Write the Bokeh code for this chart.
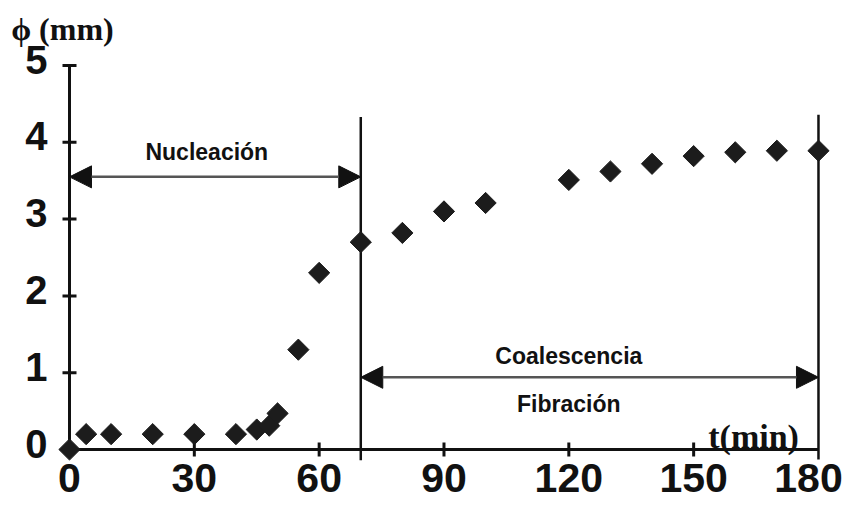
import math
from bokeh.plotting import figure
from bokeh.models import Range1d, Arrow, NormalHead
from bokeh.core.properties import value
from bokeh.embed import file_html
from bokeh.resources import INLINE

# ---------------- data ----------------
time_min = [0, 4, 10, 20, 30, 40, 45, 48, 50, 55, 60, 70, 80, 90, 100,
            120, 130, 140, 150, 160, 170, 180]
diameter_mm = [0.0, 0.2, 0.2, 0.2, 0.2, 0.2, 0.26, 0.31, 0.47, 1.3, 2.3, 2.7,
               2.82, 3.1, 3.21, 3.51, 3.62, 3.72, 3.82, 3.87, 3.89, 3.89]

x_ticks = [0, 30, 60, 90, 120, 150, 180]
x_tick_labels = ["0", "30", "60", "90", "120", "150", "180"]
y_ticks = [0, 1, 2, 3, 4, 5]
y_tick_labels = ["0", "1", "2", "3", "4", "5"]

stage_bounds = [70, 180]          # vertical separators (min)
nucleation_span = [0, 70]
coalescence_span = [70, 180]
nucleation_label = "Nucleación"
coalescence_label = "Coalescencia"
fibration_label = "Fibración"
x_title = "t(min)"
y_title = "ϕ (mm)"

# ---------------- geometry ----------------
W, H = 848, 500
px_per_min = 4.161
px_per_mm = 76.8
x0_px, y0_px = 69, 449            # canvas position of the origin
x_range = Range1d(-x0_px / px_per_min, (W - x0_px) / px_per_min)
y_range = Range1d(-(H - y0_px) / px_per_mm, y0_px / px_per_mm)

p = figure(width=W, height=H, output_backend="svg", toolbar_location=None,
           x_range=x_range, y_range=y_range,
           x_axis_location=None, y_axis_location=None)
p.min_border = 0
p.outline_line_color = None
p.background_fill_color = "white"
p.border_fill_color = "white"
p.grid.visible = False
p.xgrid.grid_line_color = None
p.ygrid.grid_line_color = None

INK = "#111111"
SANS = value("Liberation Sans")
SERIF = value("Liberation Serif")

# axis lines
p.line([x_ticks[0], x_ticks[-1]], [0, 0], line_width=3, line_color=INK)
p.line([0, 0], [y_ticks[0], y_ticks[-1]], line_width=3, line_color=INK)
# tick marks
p.scatter(x=x_ticks[1:-1], y=[0] * (len(x_ticks) - 2), marker="dash",
          angle=math.pi / 2, size=14, line_width=3, line_color=INK)
p.scatter(x=[0] * (len(y_ticks) - 1), y=y_ticks[1:], marker="dash",
          size=14, line_width=3, line_color=INK)

# stage separators
p.segment(x0=stage_bounds, y0=[-0.14, -0.13], x1=stage_bounds, y1=[4.33, 4.36],
          line_width=2.5, line_color=INK)

# arrows
for span, yy in ((nucleation_span, 3.55), (coalescence_span, 0.94)):
    p.add_layout(Arrow(
        start=NormalHead(size=22, fill_color=INK, line_color=INK),
        end=NormalHead(size=22, fill_color=INK, line_color=INK),
        x_start=span[0], y_start=yy, x_end=span[1], y_end=yy,
        line_width=2.5, line_color="#555555"))

# data markers
p.scatter(time_min, diameter_mm, marker="square", angle=math.pi / 4, size=15,
          fill_color="#1c1c1c", line_color="#1c1c1c")

# tick labels (last one nudged left so it stays inside the canvas)
x_label_nudge = [0, 0, 0, 0, 0, 0, -10]
p.text(x=x_ticks, y=[-0.37] * len(x_ticks), text=x_tick_labels,
       x_offset=x_label_nudge,
       text_font=SANS, text_font_style="bold", text_font_size="41px",
       text_align="center", text_baseline="middle", text_color=INK)
p.text(x=[-5.3] * len(y_ticks), y=y_ticks, text=y_tick_labels,
       text_font=SANS, text_font_style="bold", text_font_size="40px",
       text_align="right", text_baseline="middle", y_offset=-6, text_color=INK)

# stage texts
p.text(x=[33, 120, 120], y=[3.88, 1.22, 0.59],
       text=[nucleation_label, coalescence_label, fibration_label],
       text_font=SANS, text_font_style="bold", text_font_size="23px",
       text_align="center", text_baseline="middle", text_color=INK)

# axis titles
p.text(x=[164.4], y=[0.17], text=[x_title], text_font=SERIF,
       text_font_style="bold", text_font_size="34px",
       text_align="center", text_baseline="middle", text_color=INK)
p.text(x=[-1.7], y=[5.47], text=[y_title], text_font=SERIF,
       text_font_style="bold", text_font_size="32px",
       text_align="center", text_baseline="middle", text_color=INK)

open("out.html", "w").write(file_html(p, INLINE))
